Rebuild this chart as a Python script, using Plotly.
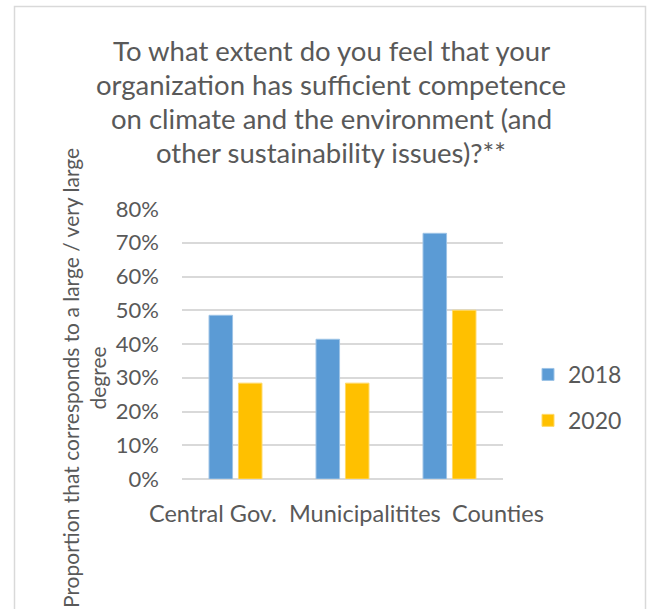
import plotly.graph_objects as go

# Survey results: share answering "large / very large degree"
categories = ["Central Gov.", "Municipalitites", "Counties"]
values_2018 = [0.485, 0.414, 0.728]
values_2020 = [0.284, 0.284, 0.50]
series_names = ["2018", "2020"]
tick_values = [0, 0.1, 0.2, 0.3, 0.4, 0.5, 0.6, 0.7, 0.8]
tick_labels = ["0%", "10%", "20%", "30%", "40%", "50%", "60%", "70%", "80%"]

title_lines = ["To what extent do you feel that your",
               "organization has sufficient competence",
               "on climate and the environment (and",
               "other sustainability issues)?**"]
y_title = "Proportion that corresponds to a large / very large<br>degree"

FONT = "Lato"
GREY_TEXT = "#595959"
GRID = "#D9D9D9"

W, H = 651, 609
L, R, T, B = 182, 148, 209, 130
pw, ph = W - L - R, H - T - B


def px_x(x):
    return (x - L) / pw


def px_y(y):
    return (H - B - y) / ph


fig = go.Figure()
fig.add_trace(go.Bar(
    x=categories, y=values_2018, name=series_names[0], legendgroup="a",
    marker=dict(color="#5B9BD5", line=dict(color="#9DC3E6", width=1)),
))
fig.add_trace(go.Bar(
    x=categories, y=values_2020, name=series_names[1], legendgroup="b",
    marker=dict(color="#FFC000", line=dict(color="#FFD966", width=1)),
))

# Category labels are wider than their slots, so they are laid out side by side
label_centres = [213, 365, 498]
cat_annotations = [
    dict(text=c, xref="paper", yref="paper", x=px_x(cx), y=px_y(513),
         xanchor="center", yanchor="middle", showarrow=False,
         font=dict(size=23.5, color=GREY_TEXT, family=FONT))
    for c, cx in zip(categories, label_centres)
]

# Title set line by line for tighter leading
title_centres = [51, 84.7, 118.3, 152]
title_annotations = [
    dict(text=t, xref="paper", yref="paper", x=px_x(331), y=px_y(cy),
         xanchor="center", yanchor="middle", showarrow=False,
         font=dict(size=27.5, color=GREY_TEXT, family=FONT))
    for t, cy in zip(title_lines, title_centres)
]

fig.update_layout(
    width=W, height=H,
    margin=dict(l=L, r=R, t=T, b=B),
    paper_bgcolor="white", plot_bgcolor="white",
    barmode="group", bargap=0.45, bargroupgap=0.2,
    font=dict(family=FONT, color=GREY_TEXT),
    showlegend=True,
    legend=dict(
        x=px_x(528), y=px_y(353), xanchor="left", yanchor="top",
        font=dict(size=23, color=GREY_TEXT, family=FONT),
        tracegroupgap=13, bgcolor="rgba(0,0,0,0)",
    ),
    xaxis=dict(
        showgrid=False, showline=False, ticks="", showticklabels=False,
    ),
    yaxis=dict(
        range=[0, 0.8], tickvals=tick_values, ticktext=tick_labels,
        showgrid=True, gridcolor=GRID, gridwidth=1.5,
        zeroline=True, zerolinecolor=GRID, zerolinewidth=1.5,
        showline=False, ticks="",
        tickfont=dict(size=22, color=GREY_TEXT, family=FONT),
        ticklabelstandoff=22,
    ),
    annotations=title_annotations + [
        dict(text=y_title, xref="paper", yref="paper",
             x=px_x(84), y=px_y(378), xanchor="center", yanchor="middle",
             showarrow=False, textangle=-90, align="center",
             font=dict(size=21, color=GREY_TEXT, family=FONT)),
    ] + cat_annotations,
    shapes=[
        dict(type="rect", xref="paper", yref="paper",
             x0=px_x(14.5), x1=px_x(645.5), y0=px_y(6.5), y1=px_y(640),
             line=dict(color=GRID, width=1.5), fillcolor="rgba(0,0,0,0)",
             layer="below"),
    ],
)

fig.write_html("out.html")
